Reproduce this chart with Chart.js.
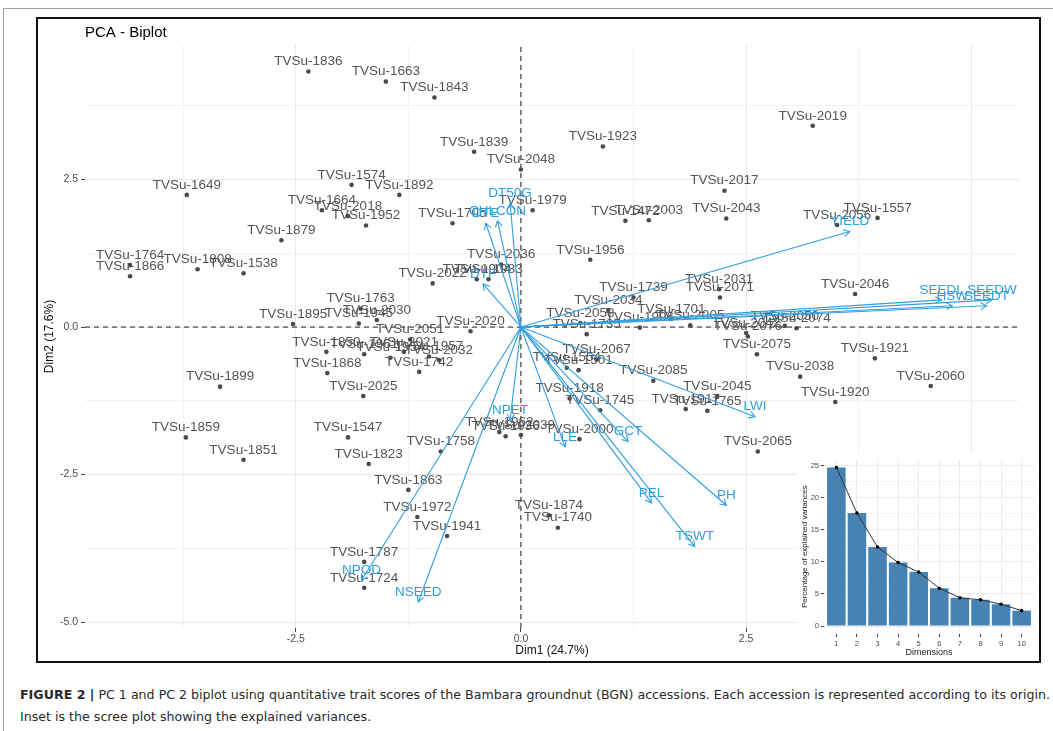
<!DOCTYPE html>
<html><head><meta charset="utf-8">
<script src="https://cdn.jsdelivr.net/npm/chart.js@4.4.1/dist/chart.umd.min.js"></script>
<style>
html,body{margin:0;padding:0;background:#fff;}
body{width:1053px;height:731px;position:relative;overflow:hidden;font-family:"Liberation Sans",Arial,sans-serif;}
#page{position:absolute;left:3px;top:8px;width:1060px;height:740px;border-left:1px solid #a0a0a0;border-top:1px solid #a0a0a0;}
#frame{position:absolute;left:36px;top:17px;width:1005px;height:646px;border:2px solid #111;box-sizing:border-box;}
#main{position:absolute;left:38px;top:19px;}
#inset{position:absolute;left:797px;top:453px;background:#fff;}
#caption{position:absolute;left:20px;top:684px;font-size:13px;color:#2a2a2a;line-height:22px;white-space:nowrap;font-family:"Liberation Sans Narrow","DejaVu Sans Condensed","Liberation Sans",Arial,sans-serif;transform-origin:left top;}
#caption span{display:inline-block;white-space:nowrap;}
</style>
</head><body>
<div id="page"></div>
<div id="frame"></div>
<canvas id="main" width="1001" height="642"></canvas>
<canvas id="inset" width="241" height="207"></canvas>
<div id="caption"><span id="cap1"><b>FIGURE 2 |</b> PC 1 and PC 2 biplot using quantitative trait scores of the Bambara groundnut (BGN) accessions. Each accession is represented according to its origin.</span><br><span id="cap2">Inset is the scree plot showing the explained variances.</span></div>
<script>
// ---------- DATA ----------
const indNames = ["TVSu-1836","TVSu-1663","TVSu-1843","TVSu-1839","TVSu-2048","TVSu-1923","TVSu-2019","TVSu-1649","TVSu-1574","TVSu-1892",
"TVSu-1664","TVSu-2018","TVSu-1952","TVSu-1879","TVSu-1705","TVSu-1979","TVSu-2017","TVSu-1472","TVSu-2003","TVSu-2043",
"TVSu-2056","TVSu-1557","TVSu-1956","TVSu-2036","TVSu-1904","TVSu-1983","TVSu-2022","TVSu-1764","TVSu-1866","TVSu-1808",
"TVSu-1538","TVSu-1763","TVSu-1895","TVSu-1945","TVSu-2030","TVSu-2020","TVSu-2051","TVSu-1850","TVSu-1961","TVSu-1954",
"TVSu-2021","TVSu-1957","TVSu-2032","TVSu-1742","TVSu-1868","TVSu-1899","TVSu-2025","TVSu-1859","TVSu-1851","TVSu-1547",
"TVSu-1823","TVSu-1758","TVSu-1863","TVSu-1972","TVSu-1941","TVSu-1787","TVSu-1724","TVSu-1962","TVSu-1936","TVSu-2039",
"TVSu-2000","TVSu-2065","TVSu-1874","TVSu-1740","TVSu-2031","TVSu-2071","TVSu-2046","TVSu-1739","TVSu-2034","TVSu-2058",
"TVSu-1735","TVSu-1701","TVSu-1996","TVSu-2005","TVSu-2042","TVSu-2076","TVSu-2075","TVSu-2074","TVSu-2050","TVSu-2067",
"TVSu-1554","TVSu-1501","TVSu-2085","TVSu-1918","TVSu-1745","TVSu-2045","TVSu-1917","TVSu-1765","TVSu-2038","TVSu-1921",
"TVSu-2060","TVSu-1920"];
const indX = [-2.36,-1.50,-0.96,-0.52,0.00,0.91,3.24,-3.71,-1.88,-1.35,
-2.21,-1.92,-1.72,-2.66,-0.76,0.13,2.26,1.16,1.42,2.28,
3.51,3.96,0.77,-0.22,-0.49,-0.36,-0.98,-4.34,-4.34,-3.59,
-3.08,-1.78,-2.53,-1.80,-1.60,-0.56,-1.23,-2.16,-1.74,-1.45,
-1.30,-1.02,-0.91,-1.13,-2.15,-3.34,-1.75,-3.72,-3.08,-1.92,
-1.69,-0.89,-1.25,-1.15,-0.82,-1.74,-1.74,-0.24,-0.17,0.00,
0.65,2.63,0.31,0.41,2.20,2.21,3.71,1.25,0.97,0.66,
0.73,1.67,1.32,1.88,2.50,2.52,2.62,3.06,2.93,0.84,
0.51,0.64,1.47,0.54,0.88,2.18,1.83,2.07,3.10,3.93,
4.55,3.49];
const indY = [4.33,4.16,3.89,2.97,2.67,3.06,3.41,2.24,2.41,2.24,
1.98,1.88,1.72,1.47,1.76,1.98,2.31,1.80,1.81,1.84,
1.73,1.85,1.14,1.06,0.81,0.81,0.74,1.05,0.86,0.98,
0.91,0.31,0.05,0.06,0.12,-0.07,-0.21,-0.42,-0.46,-0.52,
-0.42,-0.50,-0.56,-0.76,-0.78,-1.01,-1.17,-1.87,-2.25,-1.87,
-2.32,-2.11,-2.76,-3.22,-3.54,-3.98,-4.42,-1.78,-1.85,-1.83,
-1.90,-2.11,-3.19,-3.40,0.64,0.50,0.56,0.50,0.29,0.07,
-0.12,0.14,-0.01,0.03,-0.10,-0.16,-0.46,-0.02,0.02,-0.55,
-0.69,-0.73,-0.91,-1.21,-1.41,-1.18,-1.39,-1.42,-0.84,-0.53,
-1.00,-1.27];
const varNames = ["DTE","CHLCON","DT50G","DTF","YIELD","SEEDL","SEEDW","HSW","SEEDT","LWI","GCT","LLE","NPET","PEL","PH","TSWT","NPOD","NSEED"];
const varX = [-0.39,-0.26,-0.12,-0.42,3.65,4.67,5.23,4.79,5.17,2.60,1.19,0.49,-0.12,1.45,2.28,1.93,-1.77,-1.14];
const varY = [1.76,1.80,2.10,0.73,1.62,0.46,0.46,0.36,0.36,-1.52,-1.94,-2.03,-1.58,-2.98,-3.02,-3.72,-4.29,-4.66];
const xTicks = [-3.75,-2.5,-1.25,0,1.25,2.5,3.75,5];
const yTicks = [-5,-3.75,-2.5,-1.25,0,1.25,2.5,3.75];
const dims = [1,2,3,4,5,6,7,8,9,10];
const eigVals = [24.7,17.6,12.3,9.9,8.4,5.9,4.4,4.1,3.4,2.4];
const eigTicks = [0,2.5,5,7.5,10,12.5,15,17.5,20,22.5,25];

// ---------- CHART ----------
Chart.defaults.font.family = '"Liberation Sans", Arial, Helvetica, sans-serif';
const BLUE = '#2E9FDF';
const X_MIN = -4.84, X_MAX = 5.53, Y_MIN = -5.10, Y_MAX = 4.78;
const isMajor = v => Math.abs(v/2.5 - Math.round(v/2.5)) < 1e-9;
const isMajor5 = v => Math.abs(v/5 - Math.round(v/5)) < 1e-9;
const LABEL_FONT = '13.5px "Liberation Sans", Arial, sans-serif';

const biplotText = {
  id: 'biplotText',
  afterDatasetDraw(chart, args) {
    const ds = chart.data.datasets[args.index];
    if (ds.kind !== 'ind') return;
    const ctx = chart.ctx;
    ctx.save();
    ctx.font = LABEL_FONT;
    ctx.fillStyle = '#555';
    ctx.textAlign = 'center';
    ctx.textBaseline = 'middle';
    args.meta.data.forEach((el, i) => ctx.fillText(indNames[i], el.x, el.y - 10));
    ctx.restore();
  },
  afterDatasetsDraw(chart) {
    const ctx = chart.ctx;
    ctx.save();
    const tips = [];
    chart.data.datasets.forEach((ds, di) => {
      if (ds.kind !== 'var') return;
      const meta = chart.getDatasetMeta(di);
      const o = meta.data[0], t = meta.data[1];
      const a = Math.atan2(t.y - o.y, t.x - o.x);
      const L = 7, h = Math.PI / 6;
      ctx.strokeStyle = BLUE; ctx.lineWidth = 1.1;
      ctx.beginPath();
      ctx.moveTo(t.x - L * Math.cos(a - h), t.y - L * Math.sin(a - h));
      ctx.lineTo(t.x, t.y);
      ctx.lineTo(t.x - L * Math.cos(a + h), t.y - L * Math.sin(a + h));
      ctx.stroke();
      tips.push([varNames[ds.vi], t.x, t.y]);
    });
    ctx.font = LABEL_FONT;
    ctx.fillStyle = BLUE;
    ctx.textAlign = 'center';
    ctx.textBaseline = 'middle';
    tips.forEach(([n, x, y]) => ctx.fillText(n, x, y - 10));
    ctx.restore();
  }
};

const datasets = [
  {kind:'ref', data:[{x:X_MIN,y:0},{x:X_MAX,y:0}], showLine:true, borderColor:'#222', borderWidth:1, borderDash:[5,4], pointRadius:0, order:5},
  {kind:'ref', data:[{x:0,y:Y_MIN},{x:0,y:Y_MAX}], showLine:true, borderColor:'#222', borderWidth:1, borderDash:[5,4], pointRadius:0, order:5},
  {kind:'ind', data: indX.map((x,i)=>({x, y: indY[i]})), pointRadius:2.3, pointBackgroundColor:'#4a4a4a', pointBorderWidth:0, order:3}
];
varNames.forEach((n, i) => datasets.push({
  kind:'var', vi:i, data:[{x:0,y:0},{x:varX[i], y:varY[i]}], showLine:true,
  borderColor:BLUE, borderWidth:1.1, pointRadius:0, order:1
}));

new Chart(document.getElementById('main'), {
  type: 'scatter',
  data: { datasets },
  plugins: [biplotText],
  options: {
    responsive:false, animation:false, devicePixelRatio:1,
    layout:{ padding:{ top:2, right:20, left:0, bottom:0 } },
    plugins:{
      legend:{display:false}, tooltip:{enabled:false},
      title:{ display:true, text:'PCA - Biplot', align:'start', fullSize:false, color:'#000',
              font:{size:15, weight:'normal'}, padding:{top:3, bottom:3} }
    },
    scales:{
      x:{ type:'linear', min:X_MIN, max:X_MAX,
          afterBuildTicks: s => { s.ticks = xTicks.map(v => ({value:v})); },
          afterFit: s => { s.height = 33; },
          border:{display:false},
          grid:{ color: c => isMajor(c.tick.value) ? '#e8e8e8' : '#f2f2f2', lineWidth: 1,
                 tickColor: c => isMajor(c.tick.value) ? '#444' : 'rgba(0,0,0,0)', tickLength:4 },
          ticks:{ autoSkip:false, maxRotation:0, padding:1, color:'#4d4d4d', font:{size:10.5},
                  callback: v => isMajor(v) ? v.toFixed(1) : '' },
          title:{ display:true, text:'Dim1 (24.7%)', color:'#111', font:{size:12}, padding:{top:0, bottom:3} } },
      y:{ type:'linear', min:Y_MIN, max:Y_MAX,
          afterBuildTicks: s => { s.ticks = yTicks.map(v => ({value:v})); },
          afterFit: s => { s.width = 47; },
          border:{display:false},
          grid:{ color: c => isMajor(c.tick.value) ? '#e8e8e8' : '#f2f2f2', lineWidth: 1,
                 tickColor: c => isMajor(c.tick.value) ? '#444' : 'rgba(0,0,0,0)', tickLength:4 },
          ticks:{ autoSkip:false, padding:3, color:'#4d4d4d', font:{size:10.5},
                  callback: v => isMajor(v) ? v.toFixed(1) : '' },
          title:{ display:true, text:'Dim2 (17.6%)', color:'#111', font:{size:12}, padding:{top:4, bottom:4} } }
    }
  }
});

// ---------- INSET (scree plot) ----------
new Chart(document.getElementById('inset'), {
  type:'bar',
  data:{ datasets:[
    { type:'line', data: dims.map((d,i)=>({x:d, y:eigVals[i]})), borderColor:'#333', borderWidth:1,
      pointRadius:1.8, pointBackgroundColor:'#000', pointBorderWidth:0, order:0 },
    { type:'bar', data: dims.map((d,i)=>({x:d, y:eigVals[i]})), backgroundColor:'#4682B4',
      barPercentage:0.9, categoryPercentage:1, order:1 }
  ]},
  options:{
    responsive:false, animation:false, devicePixelRatio:1,
    layout:{ padding:{ top:3, right:1, left:0, bottom:0 } },
    plugins:{ legend:{display:false}, tooltip:{enabled:false} },
    scales:{
      x:{ type:'linear', min:0.4, max:10.6, offset:false,
          afterBuildTicks: s => { s.ticks = dims.map(v => ({value:v})); },
          afterFit: s => { s.height = 26; },
          border:{display:false},
          grid:{ offset:false, color:'#ececec', lineWidth:1, tickColor:'#444', tickLength:3 },
          ticks:{ autoSkip:false, maxRotation:0, padding:2, color:'#4d4d4d', font:{size:7.5}, callback: v => String(v) },
          title:{ display:true, text:'Dimensions', color:'#222', font:{size:9}, padding:{top:0, bottom:2} } },
      y:{ type:'linear', min:-1.235, max:25.935,
          afterBuildTicks: s => { s.ticks = eigTicks.map(v => ({value:v})); },
          afterFit: s => { s.width = 27; },
          border:{display:false},
          grid:{ color: c => isMajor5(c.tick.value) ? '#ececec' : '#f4f4f4', lineWidth:1,
                 tickColor: c => isMajor5(c.tick.value) ? '#444' : 'rgba(0,0,0,0)', tickLength:3 },
          ticks:{ autoSkip:false, padding:2, color:'#4d4d4d', font:{size:7.5}, callback: v => isMajor5(v) ? String(v) : '' },
          title:{ display:true, text:'Percentage of explained variances', color:'#222', font:{size:8}, padding:{top:3, bottom:2} } }
    }
  }
});

// ---------- caption width fit ----------
(function(){
  const c1 = document.getElementById('cap1');
  const w = c1.getBoundingClientRect().width;
  if (w > 0) document.getElementById('caption').style.transform = 'scaleX(' + (1030 / w) + ')';
})();
</script>
</body></html>
